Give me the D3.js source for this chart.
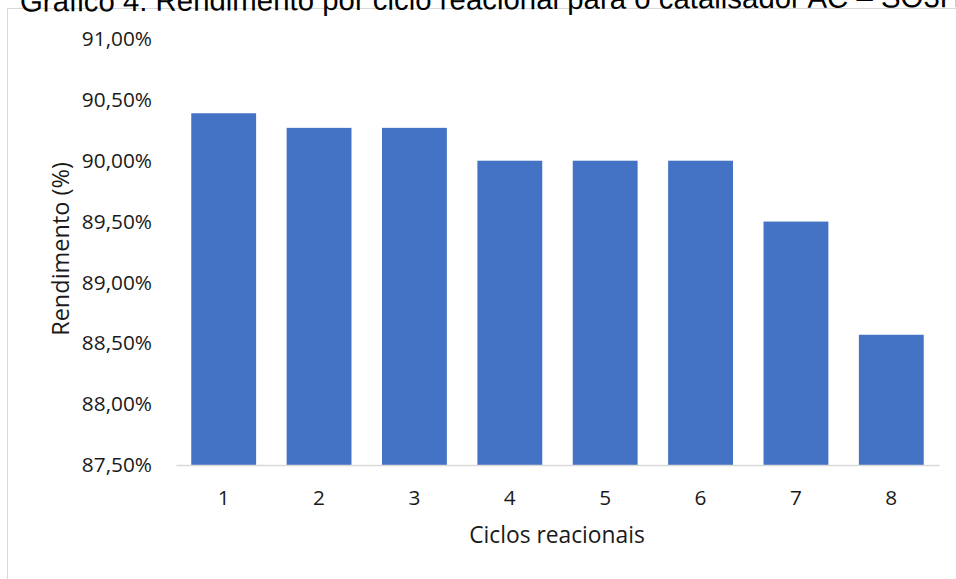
<!DOCTYPE html>
<html><head><meta charset="utf-8">
<script src="https://cdn.jsdelivr.net/npm/d3@7"></script>
<style>html,body{margin:0;padding:0;background:#fff;overflow:hidden}</style>
</head><body>
<svg id="c" width="956" height="579"></svg>
<script>
const titleText = "Gráfico 4: Rendimento por ciclo reacional para o catalisador AC – SO3H";
const categories = ["1","2","3","4","5","6","7","8"];
const values = [90.39, 90.27, 90.27, 90.00, 90.00, 90.00, 89.50, 88.57];
const yTicks = [87.5, 88.0, 88.5, 89.0, 89.5, 90.0, 90.5, 91.0];
const xTitle = "Ciclos reacionais";
const yTitle = "Rendimento (%)";

const svg = d3.select("#c");
const font = "'Open Sans', sans-serif";

// frame
svg.append("rect").attr("x",7.5).attr("y",8.5).attr("width",1000).attr("height",1000)
  .attr("fill","#fff").attr("stroke","#d9d9d9").attr("stroke-width",1);

// title (cut off at top edge, as in the reference)
svg.append("text").attr("x",20).attr("y",11.5).attr("transform","rotate(-0.27,20,11.5)").text(titleText)
  .attr("font-family","'Liberation Sans', Arial, sans-serif").attr("font-size",29.4).attr("fill","#000");

const x = d3.scaleBand().domain(categories).range([176,939]).paddingInner(0.32).paddingOuter(0.16);
const y = d3.scaleLinear().domain([87.5,91]).range([465,39]);

svg.append("g").selectAll("rect").data(values).join("rect")
  .attr("x",(d,i)=>x(categories[i])).attr("width",x.bandwidth())
  .attr("y",d=>y(d)).attr("height",d=>y(87.5)-y(d)).attr("fill","#4472c4");

const fmt = d => d.toFixed(2).replace(".",",") + "%";
const ya = svg.append("g").attr("transform","translate(152,0)")
  .call(d3.axisLeft(y).tickValues(yTicks).tickFormat(fmt).tickSize(0).tickPadding(0));
ya.select(".domain").remove();
ya.selectAll("text").attr("font-family",font).attr("font-size",20.8).attr("fill","#1a1a1a");

const xa = svg.append("g").attr("transform","translate(0,465)")
  .call(d3.axisBottom(x).tickSize(0).tickPadding(25));
xa.select(".domain").attr("stroke","#d9d9d9").attr("stroke-width",1.5);
xa.selectAll("text").attr("font-family",font).attr("font-size",20.8).attr("fill","#1a1a1a");

svg.append("text").attr("x",557).attr("y",543).attr("text-anchor","middle")
  .attr("font-family",font).attr("font-size",22.8).attr("fill","#1a1a1a").text(xTitle);
svg.append("text").attr("transform","translate(69,249) rotate(-90)").attr("text-anchor","middle")
  .attr("font-family",font).attr("font-size",23.5).attr("fill","#1a1a1a").text(yTitle);
</script>
</body></html>
